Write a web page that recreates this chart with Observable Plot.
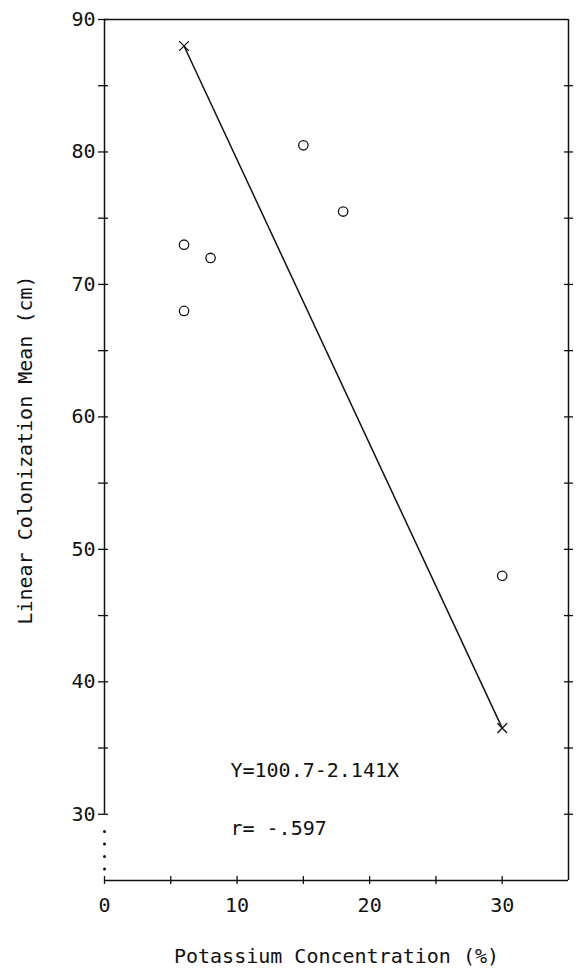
<!DOCTYPE html>
<html>
<head>
<meta charset="utf-8">
<script src="https://cdn.jsdelivr.net/npm/d3@7"></script>
<script src="https://cdn.jsdelivr.net/npm/@observablehq/plot@0.6"></script>
<style>
  html, body { margin: 0; padding: 0; background: #fff; }
</style>
</head>
<body>
<div id="chart"></div>
<script>
// Observed data points (o)
const potassium = [6, 6, 8, 15, 18, 30];
const colonization = [73, 68, 72, 80.5, 75.5, 48];

// Regression line end points (x)
const fitX = [6, 30];
const fitY = [88.0, 36.5];

// Axis ticks and labels
const xTicks = [0, 5, 10, 15, 20, 25, 30];
const xTickLabels = [0, 10, 20, 30];
const yTicksLeft = [30, 35, 40, 45, 50, 55, 60, 65, 70, 75, 80, 85, 90];
const yTicksRight = [30, 35, 40, 45, 50, 55, 60, 65, 70, 75, 80, 85];
const yTickLabels = [30, 40, 50, 60, 70, 80, 90];

// Annotations
const annotations = ["Y=100.7-2.141X", "r= -.597"];
const annotX = [9.5, 9.5];
const annotY = [33.3, 28.9];

const xTitle = "Potassium Concentration (%)";
const yTitle = "Linear Colonization Mean (cm)";

const points = potassium.map((x, i) => ({x, y: colonization[i]}));
const fit = fitX.map((x, i) => ({x, y: fitY[i]}));
const notes = annotations.map((t, i) => ({t, x: annotX[i], y: annotY[i]}));

const ink = "#111";
const xMin = 0, xMax = 35, yMin = 25, yMax = 90, yBreak = 30;

const chart = Plot.plot({
  width: 583,
  height: 968,
  marginTop: 19,
  marginBottom: 88,
  marginLeft: 104,
  marginRight: 15,
  style: {
    fontFamily: "'DejaVu Sans Mono', monospace",
    fontSize: "20px",
    color: ink,
    background: "#fff"
  },
  x: {domain: [xMin, xMax]},
  y: {domain: [yMin, yMax]},
  marks: [
    // frame
    Plot.ruleY([yMax], {stroke: ink, strokeWidth: 1.5}),
    Plot.ruleY([yMin], {stroke: ink, strokeWidth: 1.5}),
    Plot.ruleX([xMax], {stroke: ink, strokeWidth: 1.5}),
    Plot.ruleX([xMin], {y1: yBreak, y2: yMax, stroke: ink, strokeWidth: 1.5}),
    // axis break (dotted)
    Plot.ruleX([xMin], {y1: yMin, y2: yBreak, stroke: ink, strokeWidth: 3, strokeLinecap: "round",
      strokeDasharray: "0 12.5 0 12.5 0 12.5 0 40", strokeDashoffset: -11}),
    // crossing tick marks
    Plot.ruleY(yTicksLeft, {y: d => d, x1: xMin, x2: xMin, insetLeft: -6, insetRight: -4, stroke: ink, strokeWidth: 1.3}),
    Plot.ruleY(yTicksRight, {y: d => d, x1: xMax, x2: xMax, insetLeft: -4, insetRight: -5, stroke: ink, strokeWidth: 1.3}),
    Plot.ruleX(xTicks, {x: d => d, y1: yMin, y2: yMin, insetTop: -4, insetBottom: -4, stroke: ink, strokeWidth: 1.3}),
    // axis labels (text only)
    Plot.axisY(yTickLabels, {
      anchor: "left", tickSize: 0, tickPadding: 9,
      label: yTitle, labelAnchor: "center", labelOffset: 87, labelArrow: "none"
    }),
    Plot.axisX(xTickLabels, {
      anchor: "bottom", tickSize: 0, tickPadding: 17,
      label: xTitle, labelAnchor: "center", labelOffset: 82, labelArrow: "none"
    }),
    // regression line and end markers
    Plot.line(fit, {x: "x", y: "y", stroke: ink, strokeWidth: 1.5}),
    Plot.dot(fit, {x: "x", y: "y", symbol: "times", r: 4.5, stroke: ink, strokeWidth: 1.3}),
    // observed points
    Plot.dot(points, {x: "x", y: "y", symbol: "circle", r: 4.7, stroke: ink, strokeWidth: 1.3, fill: "none"}),
    // annotations
    Plot.text(notes, {x: "x", y: "y", text: "t", textAnchor: "start", fill: ink, fontSize: 20})
  ]
});

document.getElementById("chart").appendChild(chart);
</script>
</body>
</html>
